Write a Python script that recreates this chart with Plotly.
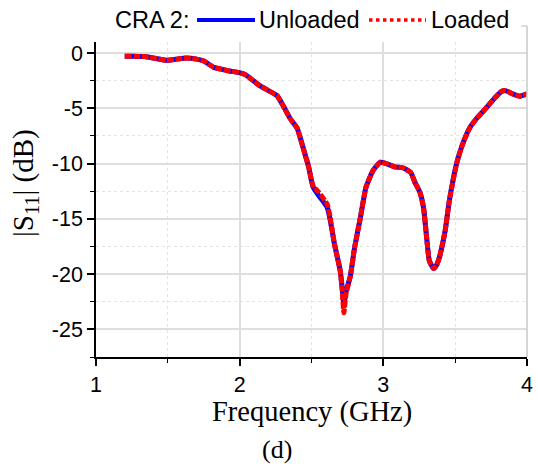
import plotly.graph_objects as go

# ---- data ----
freq = [1.20, 1.27, 1.34, 1.42, 1.49, 1.56, 1.63, 1.70, 1.75, 1.82, 1.86, 1.93,
        1.99, 2.04, 2.09, 2.14, 2.20, 2.26, 2.30, 2.35, 2.40, 2.44, 2.48, 2.51,
        2.55, 2.58, 2.61, 2.63, 2.66, 2.70, 2.715, 2.725, 2.74, 2.77, 2.80, 2.84,
        2.88, 2.93, 2.98, 3.02, 3.08, 3.14, 3.19, 3.22, 3.255, 3.28, 3.30, 3.32,
        3.35, 3.37, 3.39, 3.43, 3.46, 3.51, 3.55, 3.60, 3.65, 3.70, 3.74, 3.78,
        3.82, 3.85, 3.90, 3.95, 4.00]

s11_unloaded = [-0.30, -0.30, -0.32, -0.50, -0.66, -0.55, -0.45, -0.55, -0.72, -1.30, -1.42, -1.63,
                -1.75, -1.95, -2.45, -2.95, -3.40, -3.85, -4.70, -5.90, -6.80, -8.50, -10.3, -12.1,
                -12.9, -13.4, -14.0, -15.1, -17.3, -19.7, -21.4, -22.7, -21.6, -20.2, -17.6, -14.9,
                -12.1, -10.6, -9.87, -10.0, -10.3, -10.4, -10.8, -11.7, -12.6, -14.0, -16.5, -18.8,
                -19.5, -19.2, -18.5, -16.1, -13.3, -10.0, -8.3, -6.8, -5.9, -5.2, -4.6, -4.0,
                -3.5, -3.4, -3.7, -3.9, -3.7]

s11_loaded = [-0.30, -0.30, -0.32, -0.50, -0.66, -0.55, -0.45, -0.55, -0.72, -1.30, -1.42, -1.63,
              -1.75, -1.95, -2.45, -2.95, -3.40, -3.85, -4.70, -5.90, -6.80, -8.50, -10.3, -12.0,
              -12.6, -13.1, -13.7, -14.9, -17.3, -19.7, -21.7, -23.5, -21.8, -20.2, -17.6, -14.9,
              -12.1, -10.6, -9.87, -10.0, -10.3, -10.4, -10.8, -11.7, -12.6, -14.0, -16.5, -18.8,
              -19.5, -19.2, -18.5, -16.1, -13.3, -10.0, -8.3, -6.8, -5.9, -5.2, -4.6, -4.0,
              -3.5, -3.4, -3.7, -3.9, -3.7]

x_tickvals = [1, 2, 3, 4]
x_ticktext = ["1", "2", "3", "4"]
y_tickvals = [0, -5, -10, -15, -20, -25]
y_ticktext = ["0", "-5", "-10", "-15", "-20", "-25"]

series_names = ["Unloaded", "Loaded"]
legend_title = "CRA 2:"
x_title = "Frequency (GHz)"
y_title = "|S<sub>11</sub>| (dB)"
caption = "(d)"

W, H = 538, 464
L, R, T, B = 96, 11, 42, 107
PW, PH = W - L - R, H - T - B


def px_x(p):
    return (p - L) / PW


def px_y(p):
    return (H - B - p) / PH


fig = go.Figure()
fig.add_trace(go.Scatter(x=freq, y=s11_unloaded, mode="lines", name=series_names[0],
                         line=dict(color="#0000ff", width=5, shape="spline", smoothing=0.45),
                         showlegend=False))
fig.add_trace(go.Scatter(x=freq, y=s11_loaded, mode="lines", name=series_names[1],
                         line=dict(color="#ff0000", width=5, dash="7px,1.5px", shape="spline",
                                   smoothing=0.45),
                         showlegend=False))

tickfont = dict(family="Liberation Sans, Arial", size=21.5, color="black")
grid_major = "#dedede"
grid_minor = "#e4e4e4"

fig.update_xaxes(range=[1, 4], tickvals=x_tickvals, ticktext=x_ticktext, ticks="outside",
                 ticklen=7, tickwidth=1.5, tickcolor="black", showline=True, linecolor="black",
                 linewidth=1.5, showgrid=True, gridcolor=grid_major, gridwidth=1.5, zeroline=False,
                 tickfont=tickfont, automargin=False,
                 minor=dict(dtick=0.5, ticks="outside", ticklen=4, tickwidth=1.2, tickcolor="black",
                            showgrid=True, gridcolor=grid_minor, griddash="dot", gridwidth=1))
fig.update_yaxes(range=[-27.5, 1], tickvals=y_tickvals, ticktext=y_ticktext, ticks="outside",
                 ticklen=7, tickwidth=1.5, tickcolor="black", showline=True, linecolor="black",
                 linewidth=1.5, showgrid=True, gridcolor=grid_major, gridwidth=1.5, zeroline=False,
                 tickfont=tickfont, automargin=False,
                 minor=dict(dtick=2.5, ticks="outside", ticklen=4, tickwidth=1.2, tickcolor="black",
                            showgrid=True, gridcolor=grid_minor, griddash="dot", gridwidth=1))

serif = "Liberation Serif, Times New Roman"
sans = "Liberation Sans, Arial"
ann = [
    dict(text=x_title, x=0.5, y=px_y(411.5), xref="paper", yref="paper", showarrow=False,
         xanchor="center", yanchor="middle", font=dict(family=serif, size=28.5, color="black")),
    dict(text=caption, x=px_x(276.5), y=px_y(449), xref="paper", yref="paper", showarrow=False,
         xanchor="center", yanchor="middle", font=dict(family=serif, size=26, color="black")),
    dict(text=y_title, x=px_x(25), y=px_y(183), xref="paper", yref="paper", showarrow=False,
         xanchor="center", yanchor="middle", textangle=-90,
         font=dict(family=serif, size=29, color="black")),
    dict(text=legend_title, x=px_x(115), y=px_y(20), xref="paper", yref="paper", showarrow=False,
         xanchor="left", yanchor="middle", xshift=-2,
         font=dict(family=sans, size=23.5, color="black")),
    dict(text=series_names[0], x=px_x(259), y=px_y(20), xref="paper", yref="paper", showarrow=False,
         xanchor="left", yanchor="middle", xshift=-2,
         font=dict(family=sans, size=23.5, color="black")),
    dict(text=series_names[1], x=px_x(431), y=px_y(20), xref="paper", yref="paper", showarrow=False,
         xanchor="left", yanchor="middle", xshift=-2,
         font=dict(family=sans, size=23.5, color="black")),
]

shapes = [
    # legend samples
    dict(type="line", xref="paper", yref="paper", x0=px_x(197), x1=px_x(255),
         y0=px_y(20), y1=px_y(20), line=dict(color="#0000ff", width=4)),
    dict(type="line", xref="paper", yref="paper", x0=px_x(369), x1=px_x(426),
         y0=px_y(20), y1=px_y(20), line=dict(color="#ff0000", width=3.5, dash="dot")),
    # light right frame
    dict(type="line", xref="paper", yref="paper", x0=1, x1=1, y0=0, y1=px_y(26),
         line=dict(color="#c8c8c8", width=1.5)),
    dict(type="line", xref="paper", yref="paper", x0=px_x(521), x1=1, y0=px_y(26), y1=px_y(26),
         line=dict(color="#c8c8c8", width=1.2)),
]

fig.update_layout(width=W, height=H, margin=dict(l=L, r=R, t=T, b=B, autoexpand=False),
                  paper_bgcolor="white", plot_bgcolor="white",
                  annotations=ann, shapes=shapes, showlegend=False)

fig.write_html("out.html", config={"displayModeBar": False},
               post_script="document.body.style.margin='0px';")
